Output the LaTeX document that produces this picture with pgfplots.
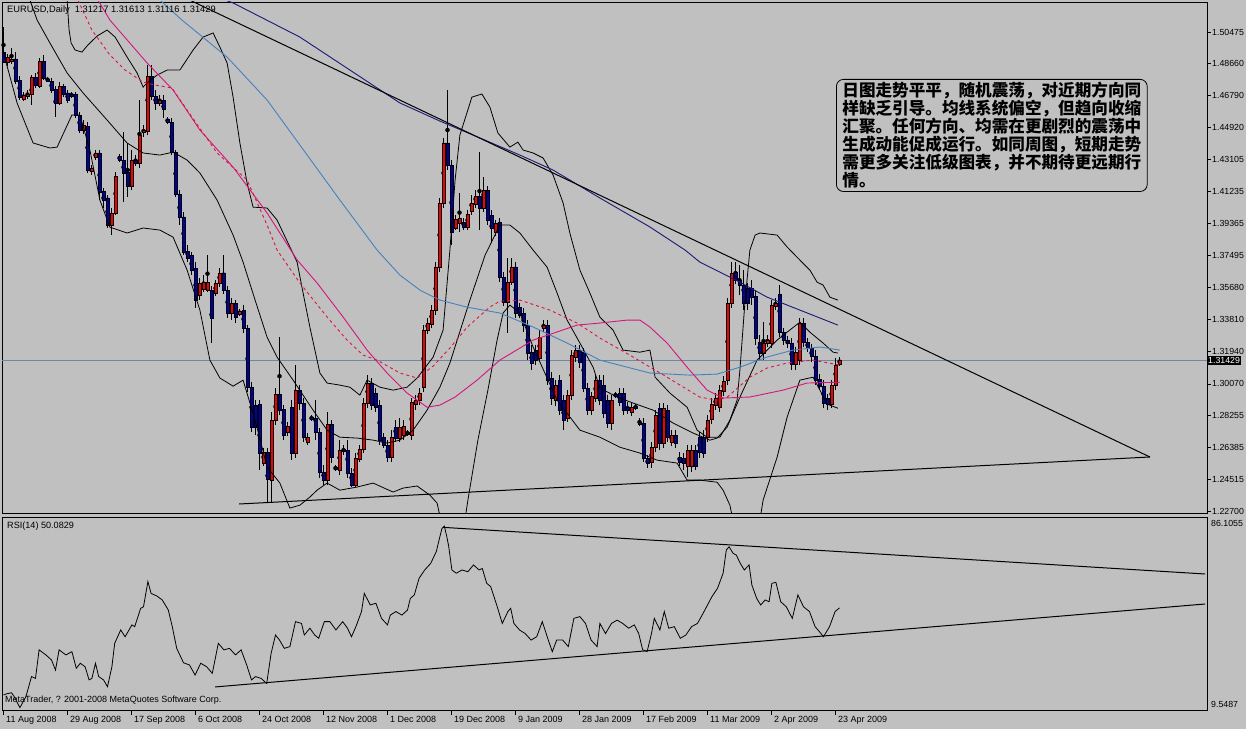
\documentclass[border=0pt]{standalone}
\usepackage{pgfplots}
\pgfplotsset{compat=1.18}
\usepackage{pgfplotstable}
\usepackage{fontspec}
\setmainfont{Liberation Sans}
\newfontfamily\cjk{Noto Sans CJK SC}

\definecolor{mtgray}{RGB}{192,192,192}
\definecolor{upbody}{RGB}{240,0,0}
\definecolor{downbody}{RGB}{0,0,170}
\definecolor{manavy}{RGB}{25,25,120}
\definecolor{masteel}{RGB}{70,130,190}
\definecolor{mamag}{RGB}{215,20,125}
\definecolor{mared}{RGB}{225,20,60}
\definecolor{pline}{RGB}{110,135,165}

\pgfplotsset{
  pricewin/.style={
    at={(2pt,727pt)}, anchor=north west,
    scale only axis, width=1205pt, height=511pt,
    xmin=-0.375, xmax=300.875, ymin=1.22585, ymax=1.52215,
  },
  overlay/.style={pricewin, hide axis},
}

% EURUSD daily bars: index, open, high, low, close
\pgfplotstableread{
i o h l c
0 1.4931 1.5076 1.4868 1.4873
1 1.4873 1.4920 1.4850 1.4902
2 1.4879 1.4955 1.4862 1.4891
3 1.4891 1.4931 1.4746 1.4763
4 1.4769 1.4792 1.4653 1.4670
5 1.4659 1.4699 1.4647 1.4682
6 1.4676 1.4711 1.4659 1.4688
7 1.4688 1.4798 1.4624 1.4786
8 1.4786 1.4810 1.4723 1.4740
9 1.4734 1.4897 1.4723 1.4879
10 1.4879 1.4914 1.4769 1.4781
11 1.4775 1.4786 1.4757 1.4763
12 1.4763 1.4781 1.4694 1.4711
13 1.4717 1.4734 1.4554 1.4636
14 1.4636 1.4757 1.4624 1.4734
15 1.4734 1.4746 1.4670 1.4688
16 1.4694 1.4711 1.4636 1.4653
17 1.4688 1.4699 1.4665 1.4676
18 1.4688 1.4699 1.4549 1.4566
19 1.4566 1.4583 1.4462 1.4479
20 1.4479 1.4537 1.4456 1.4508
21 1.4502 1.4525 1.4230 1.4247
22 1.4241 1.4276 1.4218 1.4259
23 1.4322 1.4363 1.4305 1.4346
24 1.4346 1.4363 1.4073 1.4119
25 1.4125 1.4143 1.4027 1.4073
26 1.4085 1.4102 1.3911 1.3928
27 1.3928 1.4027 1.3870 1.3998
28 1.3998 1.4235 1.3986 1.4212
29 1.4328 1.4340 1.4293 1.4305
30 1.4305 1.4467 1.4061 1.4230
31 1.4235 1.4404 1.4090 1.4154
32 1.4154 1.4363 1.4131 1.4305
33 1.4305 1.4334 1.4270 1.4288
34 1.4288 1.4653 1.4259 1.4450
35 1.4467 1.4508 1.4438 1.4479
36 1.4473 1.4856 1.4450 1.4792
37 1.4792 1.4856 1.4653 1.4676
38 1.4676 1.4711 1.4595 1.4636
39 1.4636 1.4682 1.4618 1.4653
40 1.4653 1.4682 1.4549 1.4601
41 1.4543 1.4554 1.4514 1.4525
42 1.4525 1.4549 1.4334 1.4351
43 1.4351 1.4363 1.4090 1.4108
44 1.4108 1.4131 1.3928 1.3975
45 1.3975 1.4004 1.3754 1.3771
46 1.3777 1.3812 1.3713 1.3737
47 1.3754 1.3771 1.3638 1.3667
48 1.3679 1.3713 1.3447 1.3493
49 1.3522 1.3621 1.3493 1.3592
50 1.3557 1.3638 1.3539 1.3597
51 1.3551 1.3754 1.3539 1.3597
52 1.3551 1.3574 1.3244 1.3389
53 1.3533 1.3609 1.3516 1.3592
54 1.3592 1.3679 1.3569 1.3650
55 1.3650 1.3754 1.3528 1.3551
56 1.3551 1.3574 1.3389 1.3418
57 1.3418 1.3505 1.3377 1.3476
58 1.3476 1.3493 1.3360 1.3394
59 1.3412 1.3441 1.3400 1.3429
60 1.3435 1.3464 1.3302 1.3331
61 1.3331 1.3348 1.2959 1.2988
62 1.2988 1.3017 1.2727 1.2756
63 1.2884 1.2913 1.2710 1.2756
64 1.2890 1.2913 1.2507 1.2606
65 1.2548 1.2635 1.2531 1.2611
66 1.2611 1.2635 1.2316 1.2455
67 1.2449 1.2843 1.2316 1.2797
68 1.2797 1.2983 1.2768 1.2948
69 1.2948 1.3278 1.2826 1.2855
70 1.2861 1.2884 1.2681 1.2710
71 1.2727 1.2785 1.2704 1.2762
72 1.2872 1.2913 1.2565 1.2606
73 1.2606 1.3116 1.2577 1.2971
74 1.2971 1.3000 1.2855 1.2896
75 1.2896 1.2925 1.2669 1.2698
76 1.2669 1.2721 1.2652 1.2698
77 1.2815 1.2826 1.2791 1.2803
78 1.2809 1.2913 1.2681 1.2727
79 1.2727 1.2750 1.2460 1.2495
80 1.2495 1.2536 1.2420 1.2449
81 1.2449 1.2843 1.2420 1.2774
82 1.2774 1.2797 1.2548 1.2583
83 1.2525 1.2536 1.2501 1.2513
84 1.2507 1.2681 1.2478 1.2623
85 1.2629 1.2652 1.2594 1.2617
86 1.2623 1.2681 1.2460 1.2490
87 1.2490 1.2519 1.2408 1.2420
88 1.2420 1.2606 1.2408 1.2577
89 1.2571 1.2652 1.2553 1.2629
90 1.2629 1.2925 1.2606 1.2896
91 1.2896 1.3058 1.2867 1.3012
92 1.3012 1.3041 1.2855 1.2884
93 1.2954 1.2983 1.2843 1.2872
94 1.2884 1.2913 1.2652 1.2681
95 1.2698 1.2721 1.2635 1.2652
96 1.2652 1.2681 1.2553 1.2583
97 1.2583 1.2739 1.2553 1.2698
98 1.2756 1.2797 1.2669 1.2693
99 1.2693 1.2809 1.2669 1.2756
100 1.2710 1.2797 1.2681 1.2762
101 1.2727 1.2739 1.2704 1.2716
102 1.2710 1.2925 1.2681 1.2901
103 1.2890 1.2942 1.2855 1.2913
104 1.2913 1.2983 1.2884 1.2954
105 1.2988 1.3348 1.2959 1.3319
106 1.3319 1.3389 1.3296 1.3360
107 1.3354 1.3464 1.3331 1.3435
108 1.3435 1.3713 1.3406 1.3685
109 1.3685 1.4085 1.3656 1.4056
110 1.4056 1.4433 1.4027 1.4404
111 1.4404 1.4711 1.4247 1.4276
112 1.4276 1.4305 1.3812 1.3887
113 1.3911 1.3986 1.3899 1.3963
114 1.3940 1.4114 1.3887 1.3969
115 1.3945 1.3969 1.3899 1.3916
116 1.3916 1.4015 1.3899 1.3992
117 1.4009 1.4102 1.3986 1.4056
118 1.4050 1.4131 1.4027 1.4096
119 1.4096 1.4351 1.3899 1.4027
120 1.4027 1.4206 1.4004 1.4131
121 1.4131 1.4154 1.3928 1.3957
122 1.3986 1.4015 1.3829 1.3911
123 1.3887 1.3957 1.3864 1.3940
124 1.3945 1.3969 1.3597 1.3626
125 1.3626 1.3655 1.3458 1.3481
126 1.3481 1.3737 1.3302 1.3597
127 1.3597 1.3737 1.3580 1.3685
128 1.3685 1.3713 1.3389 1.3418
129 1.3452 1.3476 1.3389 1.3406
130 1.3418 1.3447 1.3308 1.3348
131 1.3348 1.3377 1.3145 1.3186
132 1.3192 1.3232 1.3087 1.3128
133 1.3203 1.3232 1.3116 1.3145
134 1.3157 1.3319 1.3134 1.3278
135 1.3331 1.3377 1.3308 1.3348
136 1.3348 1.3377 1.3000 1.3030
137 1.3041 1.3075 1.2884 1.2925
138 1.2913 1.3029 1.2878 1.3000
139 1.3029 1.3058 1.2826 1.2855
140 1.2913 1.2942 1.2739 1.2797
141 1.2809 1.2971 1.2785 1.2942
142 1.2942 1.3203 1.2913 1.3174
143 1.3163 1.3232 1.3134 1.3203
144 1.3203 1.3232 1.3099 1.3134
145 1.3192 1.3215 1.2959 1.2983
146 1.2983 1.3012 1.2826 1.2855
147 1.2855 1.2959 1.2826 1.2936
148 1.2925 1.3058 1.2901 1.3029
149 1.3029 1.3058 1.2884 1.2913
150 1.3000 1.3058 1.2809 1.2838
151 1.2913 1.2942 1.2751 1.2780
152 1.2780 1.2942 1.2739 1.2913
153 1.2948 1.2959 1.2925 1.2936
154 1.2954 1.2983 1.2878 1.2901
155 1.2954 1.2983 1.2826 1.2855
156 1.2872 1.2901 1.2832 1.2855
157 1.2843 1.2901 1.2820 1.2872
158 1.2878 1.2890 1.2855 1.2867
159 1.2785 1.2809 1.2762 1.2774
160 1.2780 1.2809 1.2553 1.2577
161 1.2577 1.2594 1.2519 1.2548
162 1.2553 1.2669 1.2519 1.2641
163 1.2641 1.2855 1.2612 1.2826
164 1.2867 1.2896 1.2623 1.2664
165 1.2664 1.2896 1.2635 1.2867
166 1.2855 1.2884 1.2669 1.2698
167 1.2669 1.2739 1.2646 1.2710
168 1.2710 1.2739 1.2635 1.2664
169 1.2583 1.2612 1.2531 1.2553
170 1.2577 1.2606 1.2507 1.2548
171 1.2531 1.2652 1.2467 1.2623
172 1.2531 1.2652 1.2495 1.2623
173 1.2623 1.2652 1.2507 1.2531
174 1.2698 1.2727 1.2577 1.2611
175 1.2698 1.2739 1.2577 1.2606
176 1.2698 1.2826 1.2669 1.2797
177 1.2803 1.2925 1.2774 1.2890
178 1.2884 1.2954 1.2855 1.2925
179 1.2872 1.3000 1.2843 1.2971
180 1.2965 1.3052 1.2936 1.3023
181 1.3029 1.3505 1.3000 1.3476
182 1.3476 1.3713 1.3447 1.3650
183 1.3655 1.3713 1.3586 1.3609
184 1.3609 1.3696 1.3522 1.3580
185 1.3580 1.3667 1.3435 1.3476
186 1.3563 1.3592 1.3435 1.3476
187 1.3563 1.3609 1.3464 1.3511
188 1.3516 1.3551 1.3232 1.3273
189 1.3250 1.3290 1.3145 1.3186
190 1.3186 1.3366 1.3145 1.3244
191 1.3244 1.3290 1.3221 1.3261
192 1.3244 1.3493 1.3215 1.3464
193 1.3458 1.3505 1.3435 1.3476
194 1.3528 1.3580 1.3278 1.3308
195 1.3308 1.3331 1.3232 1.3261
196 1.3261 1.3284 1.3215 1.3244
197 1.3244 1.3273 1.3087 1.3122
198 1.3122 1.3221 1.3087 1.3192
199 1.3145 1.3389 1.3116 1.3360
200 1.3360 1.3389 1.3221 1.3250
201 1.3250 1.3273 1.3192 1.3215
202 1.3215 1.3238 1.3134 1.3168
203 1.3168 1.3203 1.3000 1.3029
204 1.3035 1.3064 1.2971 1.2994
205 1.2994 1.3029 1.2867 1.2896
206 1.2925 1.2948 1.2855 1.2890
207 1.2890 1.3029 1.2867 1.3000
208 1.3000 1.3157 1.2971 1.3116
209 1.31217 1.31613 1.31116 1.31429
}\candles

\begin{document}
\begin{tikzpicture}
\useasboundingbox (0pt,0pt) rectangle (1246pt,729pt);
\fill[mtgray] (0pt,0pt) rectangle (1246pt,729pt);

% ---------------- price window: frame, ticks, wicks ----------------
\begin{axis}[
  pricewin,
  axis line style={black, line width=0.9pt},
  xtick=\empty,
  ytick pos=right, yticklabel pos=right, tick align=outside,
  major tick length=4pt,
  every tick/.style={black, line width=0.8pt},
  ytick={1.22700,1.24515,1.26385,1.28255,1.30070,1.31940,1.33810,1.35680,1.37495,1.39365,1.41235,1.43105,1.44920,1.46790,1.48660,1.50475},
  yticklabels={1.22700,1.24515,1.26385,1.28255,1.30070,1.31940,1.33810,1.35680,1.37495,1.39365,1.41235,1.43105,1.44920,1.46790,1.48660,1.50475},
  yticklabel style={font=\fontsize{8.8}{10}\selectfont, inner sep=1pt},
]
\addplot[pline, line width=0.8pt] coordinates {(-0.375,1.31429) (300.875,1.31429)};
\addplot[black, only marks, no markers,
  error bars/.cd, y dir=both, y explicit, error mark=none,
  error bar style={black, line width=1pt}]
  table[x=i, y expr={(\thisrow{h}+\thisrow{l})/2}, y error expr={(\thisrow{h}-\thisrow{l})/2}] {\candles};
\end{axis}

% ---------------- bodies of up bars (stacked on the open) ----------------
\begin{axis}[overlay, ybar stacked, bar width=3pt]
\addplot[draw=none, fill=none] table[x=i, y=o] {\candles};
\addplot[draw=black, line width=0.45pt, fill=upbody]
  table[x=i, y expr={((\thisrow{c}-\thisrow{o})+abs(\thisrow{c}-\thisrow{o}))/2}] {\candles};
\end{axis}

% ---------------- bodies of down bars (stacked on the close) ----------------
\begin{axis}[overlay, ybar stacked, bar width=3pt]
\addplot[draw=none, fill=none] table[x=i, y=c] {\candles};
\addplot[draw=black, line width=0.45pt, fill=downbody]
  table[x=i, y expr={((\thisrow{o}-\thisrow{c})+abs(\thisrow{o}-\thisrow{c}))/2}] {\candles};
\end{axis}

% ---------------- indicators ----------------
\begin{axis}[overlay, clip mode=individual]
% Bollinger bands
\addplot[black, line width=0.8pt] coordinates {
(15.9,1.5233) (16.4,1.5059) (16.9,1.4984) (17.9,1.4943) (19.6,1.4931) (21.1,1.4972) (23.4,1.5024)
(25.9,1.5059) (27.9,1.5018) (30.9,1.4902) (33.4,1.4810) (34.9,1.4728) (35.9,1.4752) (38.4,1.4798)
(40.9,1.4827) (44.1,1.4827) (47.4,1.4943) (49.9,1.5018) (52.4,1.5042) (54.1,1.4960) (55.9,1.4868)
(57.4,1.4670) (59.1,1.4404) (60.9,1.4172) (62.4,1.4032) (65.9,1.4027) (68.4,1.3957) (71.6,1.3801)
(73.4,1.3713) (74.9,1.3534) (76.6,1.3336) (79.1,1.3070) (80.9,1.3012) (84.1,1.3000) (86.6,1.2988)
(89.1,1.2942) (90.9,1.3029) (94.1,1.2988) (97.4,1.2971) (100.9,1.2988) (103.4,1.3041) (107.4,1.3162)
(109.9,1.3319) (111.6,1.3783) (112.9,1.4189) (114.1,1.4450) (117.1,1.4670) (119.6,1.4688) (121.6,1.4612)
(123.6,1.4462) (126.6,1.4380) (128.6,1.4409) (129.9,1.4363) (132.4,1.4346) (134.9,1.4317) (137.4,1.4218)
(139.9,1.4056) (141.6,1.3881) (144.1,1.3667) (146.6,1.3534) (149.1,1.3394) (152.4,1.3319) (154.9,1.3203)
(159.1,1.3191) (161.6,1.3203) (162.9,1.3046) (166.6,1.2954) (170.9,1.2872) (173.4,1.2739) (175.9,1.2698)
(179.1,1.2698) (181.6,1.2797) (183.4,1.2913) (184.1,1.3087) (185.4,1.3493) (186.6,1.3783) (187.9,1.3870)
(189.1,1.3882) (193.4,1.3870) (195.9,1.3801) (199.1,1.3725) (201.6,1.3667) (203.4,1.3597) (204.9,1.3580)
(206.6,1.3510) (208.6,1.3493)};
\addplot[black, line width=0.8pt] coordinates {
(6.6,1.5233) (8.4,1.5117) (11.6,1.4984) (15.9,1.4810) (19.9,1.4694) (25.9,1.4537) (30.9,1.4404)
(34.9,1.4346) (39.1,1.4334) (42.4,1.4351) (45.9,1.4305) (49.1,1.4230) (53.4,1.4073) (57.4,1.3870)
(59.9,1.3713) (62.9,1.3493) (65.9,1.3278) (68.4,1.3162) (72.4,1.3029) (77.4,1.2855) (80.9,1.2739)
(84.1,1.2698) (88.4,1.2693) (92.4,1.2681) (95.9,1.2664) (99.1,1.2681) (102.4,1.2739) (105.9,1.2855)
(109.1,1.2988) (111.6,1.3128) (116.6,1.3493) (120.4,1.3754) (124.1,1.3928) (126.6,1.3928) (129.1,1.3882)
(132.4,1.3783) (135.9,1.3684) (138.4,1.3534) (140.9,1.3377) (144.1,1.3244) (147.4,1.3104) (149.1,1.2983)
(153.4,1.2931) (157.4,1.2896) (162.4,1.2855) (167.4,1.2780) (172.4,1.2722) (176.6,1.2681) (178.4,1.2693)
(180.9,1.2756) (184.1,1.2930) (188.4,1.3145) (193.4,1.3261) (195.9,1.3307) (199.1,1.3365) (201.6,1.3307)
(204.9,1.3244) (207.4,1.3191) (208.6,1.3186)};
\addplot[black, line width=0.8pt] coordinates {
(0,1.4926) (3.4,1.4636) (7.4,1.4404) (11.6,1.4375) (13.4,1.4380) (17.1,1.4566) (19.1,1.4566)
(21.6,1.4363) (24.1,1.4073) (26.6,1.3916) (30.9,1.3882) (34.9,1.3911) (39.1,1.3899) (42.4,1.3858)
(45.9,1.3667) (49.1,1.3435) (51.6,1.3145) (54.1,1.3041) (57.4,1.2994) (59.9,1.3029) (62.9,1.2797)
(65.9,1.2525) (69.1,1.2432) (71.6,1.2287) (74.1,1.2304) (76.6,1.2351) (78.4,1.2391) (80.9,1.2432)
(84.1,1.2391) (88.4,1.2409) (92.4,1.2432) (97.4,1.2380) (99.9,1.2403) (103.4,1.2415) (106.6,1.2362)
(108.4,1.2316) (109.6,1.2188) (111.1,1.1869) (112.9,1.1811) (114.6,1.2101) (116.1,1.2333) (118.6,1.2681)
(121.1,1.2971) (123.4,1.3261) (124.9,1.3418) (126.6,1.3464) (129.1,1.3418) (132.4,1.3221) (138.4,1.2913)
(144.1,1.2739) (149.1,1.2698) (154.1,1.2640) (159.1,1.2606) (163.4,1.2565) (168.4,1.2548) (170.9,1.2449)
(174.1,1.2449) (178.4,1.2437) (179.9,1.2391) (181.6,1.2304) (183.4,1.2101) (185.9,1.1869) (187.9,1.1985)
(189.1,1.2217) (189.9,1.2333) (193.4,1.2582) (195.9,1.2814) (199.1,1.3029) (202.4,1.3046) (204.1,1.2971)
(205.9,1.2890) (208.6,1.2866)};

% moving averages
\addplot[manavy, line width=0.9pt] coordinates {
(55.4,1.5233) (57.4,1.5216) (74.1,1.5018) (86.6,1.4827) (99.1,1.4636) (109.1,1.4531) (119.1,1.4433)
(129.1,1.4334) (137.4,1.4247) (149.1,1.4085) (161.6,1.3917) (170.4,1.3783) (174.1,1.3713) (184.1,1.3597)
(190.9,1.3510) (199.1,1.3435) (208.6,1.3348)};
\addplot[masteel, line width=0.9pt] coordinates {
(39.1,1.5233) (44.6,1.5117) (55.9,1.4902) (65.9,1.4653) (74.1,1.4392) (84.1,1.4073) (93.4,1.3783)
(99.1,1.3638) (104.1,1.3551) (109.1,1.3493) (115.9,1.3452) (124.1,1.3418) (132.4,1.3337) (140.9,1.3244)
(149.1,1.3145) (161.6,1.3070) (171.6,1.3058) (178.4,1.3064) (184.1,1.3104) (190.9,1.3163) (197.4,1.3203)
(204.1,1.3221) (209.1,1.3203)};
\addplot[mamag, line width=0.9pt] coordinates {
(23.6,1.5233) (26.6,1.5117) (35.9,1.4868) (42.4,1.4711) (49.1,1.4479) (57.4,1.4264) (65.9,1.3998)
(73.4,1.3726) (78.4,1.3592) (84.9,1.3395) (90.9,1.3203) (95.9,1.3070) (100.9,1.2954) (105.9,1.2872)
(109.1,1.2884) (112.9,1.2931) (118.4,1.3029) (124.1,1.3145) (132.4,1.3261) (143.4,1.3348) (149.1,1.3360)
(155.9,1.3377) (159.1,1.3377) (161.6,1.3337) (165.9,1.3244) (170.9,1.3104) (175.9,1.2971) (179.9,1.2925)
(186.6,1.2931) (194.9,1.2971) (200.9,1.3012) (209.1,1.3017)};
\addplot[mared, line width=0.9pt, dash pattern=on 3pt off 3pt] coordinates {
(18.6,1.5233) (22.1,1.5059) (26.6,1.4914) (30.4,1.4827) (34.9,1.4757) (37.9,1.4740) (42.1,1.4723)
(45.9,1.4595) (53.4,1.4346) (60.9,1.4189) (65.9,1.3928) (68.4,1.3783) (74.1,1.3592) (80.9,1.3395)
(85.9,1.3261) (89.9,1.3174) (93.4,1.3145) (99.1,1.3070) (103.4,1.3041) (107.4,1.3110) (111.6,1.3215)
(115.9,1.3336) (121.6,1.3453) (124.1,1.3487) (129.1,1.3493) (136.6,1.3435) (143.4,1.3360) (149.1,1.3273)
(157.4,1.3163) (165.9,1.3046) (174.1,1.2930) (178.4,1.2913) (180.9,1.2930) (186.6,1.3046) (190.9,1.3099)
(195.9,1.3128) (202.4,1.3145) (209.1,1.3116)};

% trend lines
\addplot[black, line width=1pt] coordinates {(40,1.5305) (286.6,1.25833)};
\addplot[black, line width=1pt] coordinates {(58.9,1.23107) (286.6,1.25833)};

\node[fill=black, text=white, anchor=west, inner sep=1pt, font=\fontsize{8.8}{10}\selectfont]
  at (axis cs:300.875,1.31429) {1.31429};
\end{axis}

% ---------------- RSI window ----------------
\begin{axis}[
  at={(2pt,212pt)}, anchor=north west,
  scale only axis, width=1205pt, height=193pt,
  xmin=-0.375, xmax=300.875, ymin=9.5487, ymax=86.1055,
  axis line style={black, line width=0.9pt},
  ytick=\empty,
  xtick={0,16,32,48,64,80,96,112,128,144,160,176,192,208},
  xticklabels={11 Aug 2008,29 Aug 2008,17 Sep 2008,6 Oct 2008,24 Oct 2008,12 Nov 2008,1 Dec 2008,19 Dec 2008,9 Jan 2009,28 Jan 2009,17 Feb 2009,11 Mar 2009,2 Apr 2009,23 Apr 2009},
  xtick pos=bottom, tick align=outside, major tick length=5pt,
  every tick/.style={black, line width=0.8pt},
  xticklabel style={font=\fontsize{9}{10}\selectfont, anchor=north west, inner sep=1pt, xshift=1.5pt},
  clip mode=individual,
]
\addplot[black, line width=0.8pt] coordinates {
(0,15.5) (0.6,15.9) (2.0,16.4) (2.7,14.8) (4.1,10.5) (5.6,14.8) (7.0,22.8) (8.0,22.1) (8.9,33.4)
(10.6,31.4) (12.0,29.4) (13.0,25.4) (13.9,33.4) (15.6,31.4) (17.1,32.7) (18.2,26.1) (19.2,28.1)
(20.4,26.7) (21.4,21.5) (22.1,22.1) (23.0,28.1) (23.8,22.8) (25.0,21.5) (26.0,18.8) (27.1,26.7)
(27.8,36.0) (29.3,41.3) (30.4,38.6) (32.1,43.3) (32.8,42.6) (34.3,49.9) (35.0,50.5) (36.1,60.5)
(36.9,55.8) (38.3,54.8) (39.7,53.2) (41.2,49.2) (42.2,42.6) (43.3,34.0) (45.0,28.3) (46.5,27.4)
(47.9,23.4) (49.3,28.1) (50.8,26.7) (52.2,24.1) (53.7,36.0) (55.1,33.4) (56.5,34.0) (58.0,31.4)
(59.4,33.4) (60.8,27.4) (62.0,21.5) (63.0,22.8) (64.4,22.1) (65.8,20.1) (66.9,32.0) (68.0,39.3)
(69.0,37.3) (70.2,34.0) (71.6,34.7) (73.0,44.6) (74.5,43.9) (75.2,39.3) (76.6,42.0) (77.8,39.3)
(78.8,38.0) (80.2,44.6) (81.6,44.6) (83.1,41.3) (84.8,44.6) (86.0,42.0) (87.0,38.6) (88.1,42.6)
(89.5,48.6) (90.2,55.8) (91.7,51.2) (93.1,51.9) (94.5,45.9) (96.0,43.3) (96.7,47.2) (98.1,48.6)
(99.6,47.2) (101.0,49.2) (101.7,53.8) (102.7,55.2) (103.9,61.8) (105.3,65.1) (106.8,67.7) (108.2,72.4)
(108.9,77.0) (109.6,81.5) (110.2,82.5) (110.8,78.5) (111.3,74.5) (112.1,65.1) (113.2,63.8) (114.6,65.1)
(116.1,64.4) (117.5,67.1) (118.9,65.1) (119.7,65.7) (120.8,59.8) (121.8,58.5) (123.3,51.2) (124.7,43.9)
(126.1,48.6) (126.8,49.9) (127.6,43.9) (129.0,41.3) (130.4,39.9) (131.9,37.3) (133.3,38.6) (134.7,44.6)
(136.2,37.3) (137.2,32.7) (138.3,37.3) (139.8,37.3) (141.2,34.7) (142.6,45.9) (144.1,46.6) (145.5,43.9)
(146.9,37.3) (148.4,34.7) (149.1,43.9) (150.5,39.9) (152.0,43.9) (153.4,45.2) (154.8,43.9) (156.3,42.0)
(157.7,43.3) (158.8,39.9) (159.8,33.4) (160.9,32.7) (162.0,39.9) (162.7,45.9) (164.1,41.3) (165.2,48.6)
(166.3,42.0) (167.7,42.6) (169.2,38.0) (170.6,39.3) (172.0,42.6) (173.5,43.9) (174.9,47.9) (177.1,54.5)
(178.5,57.8) (179.9,63.8) (180.7,73.0) (181.4,74.3) (182.4,71.7) (183.2,71.0) (184.2,67.7) (185.2,65.1)
(186.4,67.1) (187.1,59.1) (188.3,53.8) (189.3,51.2) (190.4,53.2) (191.4,52.5) (192.1,59.8) (193.1,60.2)
(194.3,52.5) (195.7,50.5) (197.2,45.9) (198.6,55.2) (200.0,50.5) (201.5,48.6) (202.9,42.6) (204.0,40.6)
(205.0,38.6) (206.5,42.6) (207.9,48.6) (209.0,50.08)};
\addplot[black, line width=1pt] coordinates {(109.9,82.0) (300.4,63.5)};
\addplot[black, line width=1pt] coordinates {(52.9,18.7) (300.4,51.6)};
\node[anchor=north west, inner sep=0pt, font=\fontsize{8.8}{10}\selectfont]
  at (rel axis cs:1,1) [xshift=4pt, yshift=-3pt] {86.1055};
\node[anchor=south west, inner sep=0pt, font=\fontsize{8.8}{10}\selectfont]
  at (rel axis cs:1,0) [xshift=4pt, yshift=2pt] {9.5487};
\end{axis}

% ---------------- texts ----------------
\node[anchor=west, inner sep=0pt, font=\fontsize{9.3}{11}\selectfont] at (7pt,719pt)
  {EURUSD,Daily\ \ 1.31217 1.31613 1.31116 1.31429};
\node[anchor=west, inner sep=0pt, font=\fontsize{9.1}{11}\selectfont] at (7pt,203pt)
  {RSI(14) 50.0829};
\node[anchor=west, inner sep=0pt, font=\fontsize{9}{11}\selectfont] at (5pt,29pt)
  {MetaTrader, ? 2001-2008 MetaQuotes Software Corp.};
\node[draw=black, line width=0.8pt, rounded corners=7pt, fill=mtgray, anchor=north west,
  inner xsep=6pt, inner ysep=3pt, align=left,
  font=\cjk\bfseries\fontsize{16.6}{18}\selectfont] at (836pt,650pt)
  {日图走势平平，随机震荡，对近期方向同\\样缺乏引导。均线系统偏空，但趋向收缩\\汇聚。任何方向、均需在更剧烈的震荡中\\生成动能促成运行。如同周图，短期走势\\需更多关注低级图表，并不期待更远期行\\情。};
\end{tikzpicture}
\end{document}
